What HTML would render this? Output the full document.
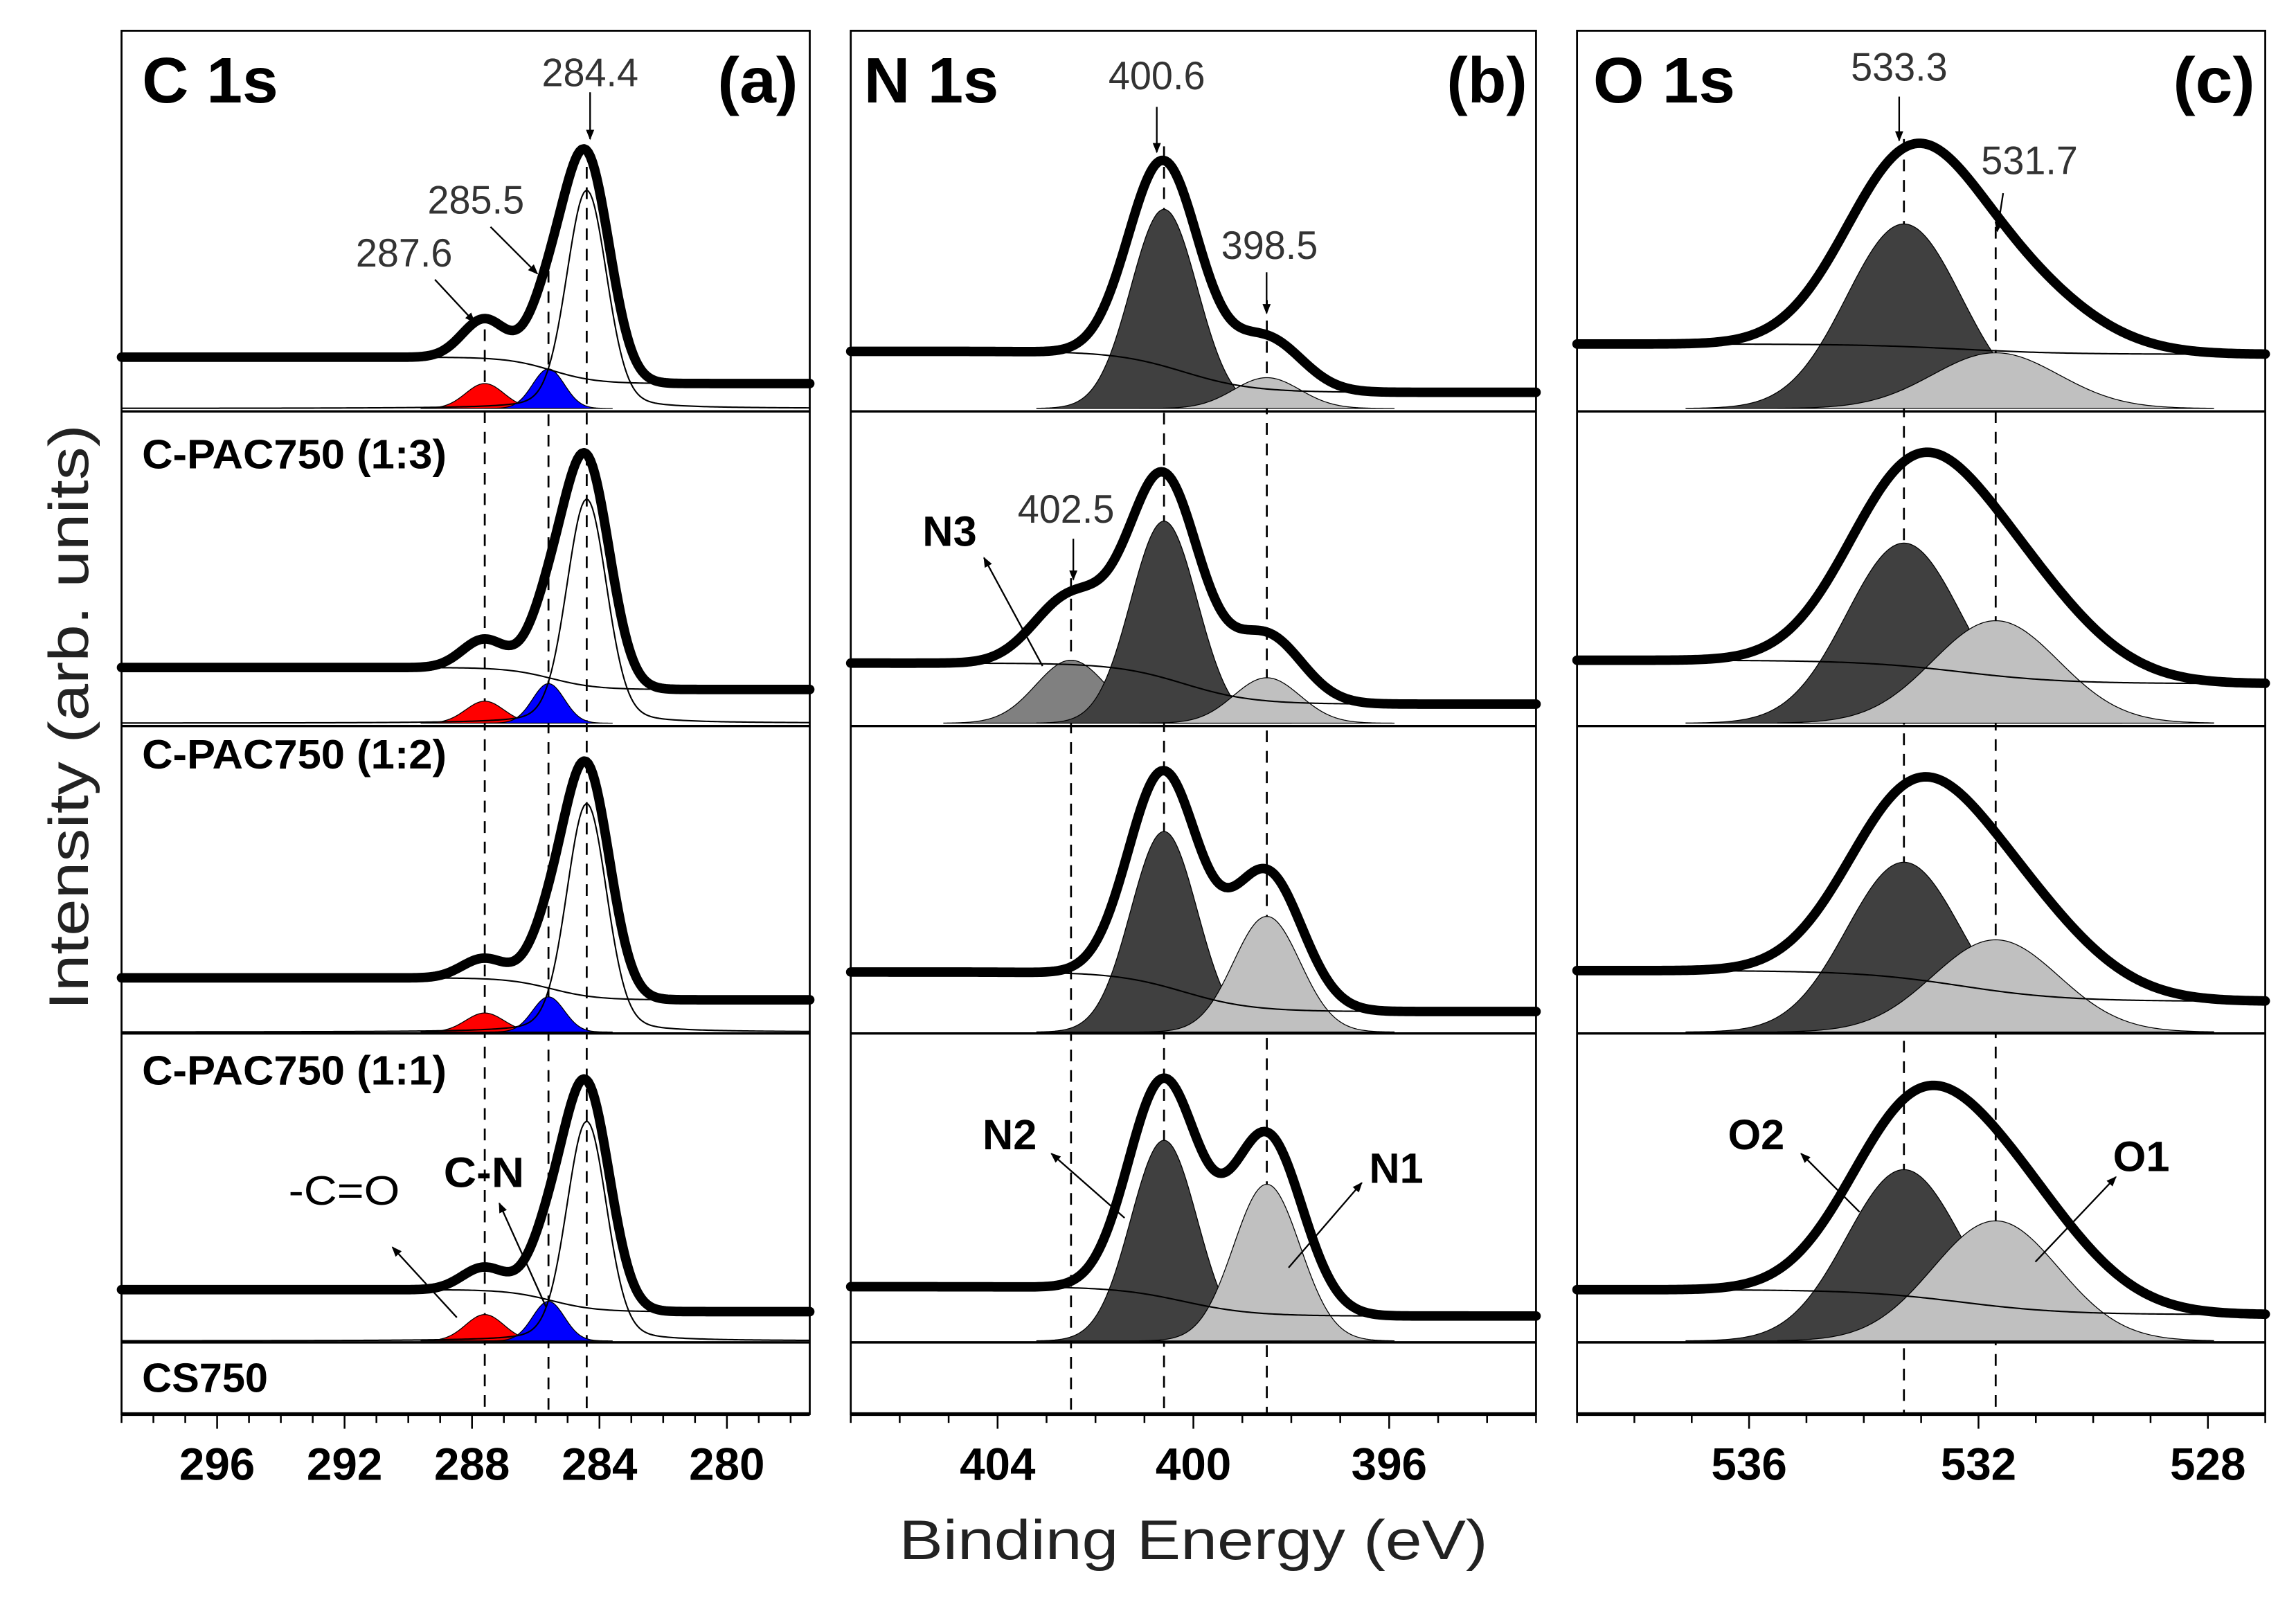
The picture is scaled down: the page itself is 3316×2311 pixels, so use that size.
<!DOCTYPE html>
<html><head><meta charset="utf-8"><title>XPS C1s N1s O1s</title>
<style>
html,body{margin:0;padding:0;background:#fff;}
svg{display:block;}
text{font-family:"Liberation Sans",Arial,sans-serif;}
</style></head>
<body>
<svg id="chart" xmlns="http://www.w3.org/2000/svg" width="3316" height="2311" viewBox="0 0 1568 1093" preserveAspectRatio="none">
<defs>
<marker id="ah" viewBox="0 0 10 10" refX="9" refY="5" markerWidth="7" markerHeight="7" orient="auto-start-reverse" markerUnits="userSpaceOnUse"><path d="M0,1 L10,5 L0,9 z" fill="#000"/></marker>
</defs>
<rect x="0" y="0" width="1568" height="1093" fill="#fff"/>
<g id="plots"></g>
<g id="annot"></g>
</svg>
<script>
// ---------- data ----------
const cPeakEnergies = [287.6, 285.6, 284.4];
const cEnvHeights = [[27,40,150],[20,40,152],[14,32,155],[16,36,150]];
const cFillHeights = [[17,27],[15,27],[13,24],[18,27]];
const cMainThin = [149,153,156,150];
const cBgLeft = [35,38,37,35];
const cBgRight = [17,23,22,20];

const nPeakEnergies = [402.5, 400.6, 398.5];
const nEnvHeights = [[0,140,35],[46,138,45],[0,146,93],[0,148,122]];
const nFillHeights = [[0,136,21],[43,138,31],[0,137,79],[0,137,107]];
const nBgLeft = [39,41,41,37];
const nBgRight = [11,13,14,17];

const oPeakEnergies = [533.3, 531.7];
const oEnvHeights = [[108,56],[100,80],[95,75],[90,90]];
const oFillHeights = [[126,38],[123,70],[116,63],[117,82]];
const oBgLeft = [44,43,42,35];
const oBgRight = [37,27,21,18];

const cTicks = [296,292,288,284,280];
const nTicks = [404,400,396];
const oTicks = [536,532,528];
const sampleLabels = ["C-PAC750 (1:3)","C-PAC750 (1:2)","C-PAC750 (1:1)","CS750"];

// ---------- geometry ----------
const NS = "http://www.w3.org/2000/svg";
const panels = [
  {x0:83, x1:553, e0:299, e1:277.4, tag:"a"},
  {x0:581, x1:1049, e0:407, e1:393, tag:"b"},
  {x0:1077, x1:1547, e0:539, e1:527, tag:"c"}
];
const TOP = 21, BOTTOM = 966;
const rowBase = [279, 494, 705, 916];
const dividers = [281, 496, 706, 917];

function xs(p, E){ return p.x0 + (p.e0 - E) / (p.e0 - p.e1) * (p.x1 - p.x0); }
function g(E, c, s){ return Math.exp(-((E-c)*(E-c))/(2*s*s)); }
function bg(E, L, R, c, w){ return L + (R - L) / (1 + Math.exp(-(c - E)/w)); }

const plots = document.getElementById('plots');
const annot = document.getElementById('annot');

function mk(tag, attrs, parent){
  const el = document.createElementNS(NS, tag);
  for (const k in attrs) el.setAttribute(k, attrs[k]);
  (parent||plots).appendChild(el);
  return el;
}
function curve(p, fn){
  const pts = [];
  const N = 320;
  for (let i=0;i<=N;i++){
    const E = p.e0 + (p.e1 - p.e0) * i / N;
    pts.push(xs(p,E).toFixed(2)+","+fn(E).toFixed(2));
  }
  return pts;
}
function fillPath(p, base, fn, lo, hi){
  const pts = [];
  const N = 200;
  for (let i=0;i<=N;i++){
    const E = hi + (lo - hi) * i / N;
    pts.push(xs(p,E).toFixed(2)+","+fn(E).toFixed(2));
  }
  return "M"+xs(p,hi).toFixed(2)+","+base+" L"+pts.join(" L")+" L"+xs(p,lo).toFixed(2)+","+base+" Z";
}

// ---------- frames, dividers, ticks ----------
panels.forEach((p, pi) => {
  const fr = mk('rect',{x:p.x0,y:TOP,width:p.x1-p.x0,height:BOTTOM-TOP,fill:"none",stroke:"#000","stroke-width":1.3});
  
  
  dividers.forEach((d, di) => {
    const l = mk('line',{x1:p.x0,x2:p.x1,y1:d,y2:d,stroke:"#000","stroke-width":1.6});
    
    
  });
  const ax = mk('line',{x1:p.x0,x2:p.x1,y1:BOTTOM,y2:BOTTOM,stroke:"#000","stroke-width":2.5});
  
  
  const major = [cTicks,nTicks,oTicks][pi];
  const eMax = Math.floor(p.e0), eMin = Math.ceil(p.e1);
  for (let E = eMax; E >= eMin; E--){
    const isMaj = major.indexOf(E) >= 0;
    const x = xs(p,E);
    const t = mk('line',{x1:x,x2:x,y1:BOTTOM,y2:BOTTOM+(isMaj?10:6),stroke:"#000","stroke-width":1.2});
    
    
  }
  major.forEach(v => {
    const t = mk('text',{x:xs(p,v),y:1011,"text-anchor":"middle","font-size":31,"font-weight":"bold",fill:"#000"});
    t.textContent = v;
    
    
  });
});

// ---------- dashed reference lines ----------
function dashed(p, E, y0){
  const x = xs(p,E);
  const l = mk('line',{x1:x,x2:x,y1:y0,y2:BOTTOM,stroke:"#000","stroke-width":1.3,"stroke-dasharray":"8 6"});
  
  
}
dashed(panels[0], cPeakEnergies[0], 225);
dashed(panels[0], cPeakEnergies[1], 185);
dashed(panels[0], cPeakEnergies[2], 100);
dashed(panels[1], nPeakEnergies[0], 395);
dashed(panels[1], nPeakEnergies[1], 100);
dashed(panels[1], nPeakEnergies[2], 205);
dashed(panels[2], oPeakEnergies[0], 95);
dashed(panels[2], oPeakEnergies[1], 155);

// ---------- C 1s ----------
(function(){
  const p = panels[0];
  const sEnv = [0.7, 0.62, 0.72];
  const sFill = [0.6, 0.5];
  const colors = ["#ff0000","#0000ff"];
  for (let r=0;r<4;r++){
    const b = rowBase[r];
    const bgf = E => bg(E, cBgLeft[r], cBgRight[r], 285.5, 0.7);
    cFillHeights[r].forEach((h, k) => {
      const c = cPeakEnergies[k];
      const f = mk('path',{d:fillPath(p,b,E=>b-h*g(E,c,sFill[k]),c-2.0,c+2.0),fill:colors[k],stroke:"#000","stroke-width":0.6});
      
      
    });
    const th = mk('polyline',{points:curve(p,E=>b-cMainThin[r]*(g(E,284.4,0.62)*0.85+0.15/(1+((E-284.4)/0.9)**2))).join(" "),fill:"none",stroke:"#000","stroke-width":1});
    
    
    const bl = mk('polyline',{points:curve(p,E=>b-bgf(E)).join(" "),fill:"none",stroke:"#000","stroke-width":1});
    
    
    const env = mk('polyline',{points:curve(p,E=>{let v=bgf(E);cEnvHeights[r].forEach((h,k)=>{v+=h*g(E,cPeakEnergies[k],sEnv[k]);});return b-v;}).join(" "),fill:"none",stroke:"#000","stroke-width":6.5,"stroke-linejoin":"round","stroke-linecap":"round"});
    
    
  }
})();

// ---------- N 1s ----------
(function(){
  const p = panels[1];
  const sEnv = [0.75, 0.72, 0.72];
  const sFill = [0.72, 0.68, 0.68];
  const colors = ["#808080","#404040","#c0c0c0"];
  for (let r=0;r<4;r++){
    const b = rowBase[r];
    const bgf = E => bg(E, nBgLeft[r], nBgRight[r], 400.2, 0.7);
    nFillHeights[r].forEach((h, k) => {
      if (h <= 0) return;
      const c = nPeakEnergies[k];
      const f = mk('path',{d:fillPath(p,b,E=>b-h*g(E,c,sFill[k]),c-2.6,c+2.6),fill:colors[k],stroke:"#000","stroke-width":0.6});
      
      
    });
    const bl = mk('polyline',{points:curve(p,E=>b-bgf(E)).join(" "),fill:"none",stroke:"#000","stroke-width":1});
    
    
    const env = mk('polyline',{points:curve(p,E=>{let v=bgf(E);nEnvHeights[r].forEach((h,k)=>{v+=h*g(E,nPeakEnergies[k],sEnv[k]);});return b-v;}).join(" "),fill:"none",stroke:"#000","stroke-width":6.5,"stroke-linejoin":"round","stroke-linecap":"round"});
    
    
  }
})();

// ---------- O 1s ----------
(function(){
  const p = panels[2];
  const sEnv = [1.1, 1.35];
  const sFill = [1.0, 1.1];
  const colors = ["#404040","#c0c0c0"];
  for (let r=0;r<4;r++){
    const b = rowBase[r];
    const bgf = E => bg(E, oBgLeft[r], oBgRight[r], 532.3, 0.9);
    oFillHeights[r].forEach((h, k) => {
      const c = oPeakEnergies[k];
      const f = mk('path',{d:fillPath(p,b,E=>b-h*g(E,c,sFill[k]),c-3.8,c+3.8),fill:colors[k],stroke:"#000","stroke-width":0.6});
      
      
    });
    const bl = mk('polyline',{points:curve(p,E=>b-bgf(E)).join(" "),fill:"none",stroke:"#000","stroke-width":1});
    
    
    const env = mk('polyline',{points:curve(p,E=>{let v=bgf(E);oEnvHeights[r].forEach((h,k)=>{v+=h*g(E,oPeakEnergies[k],sEnv[k]);});return b-v;}).join(" "),fill:"none",stroke:"#000","stroke-width":6.5,"stroke-linejoin":"round","stroke-linecap":"round"});
    
    
  }
})();

// ---------- annotations ----------
function txt(x,y,s,opts,name){
  const t = mk('text',Object.assign({x:x,y:y,fill:"#000"},opts),annot);
  t.textContent = s;
  
  
  return t;
}
function arrow(x1,y1,x2,y2,name){
  const l = mk('line',{x1:x1,y1:y1,x2:x2,y2:y2,stroke:"#000","stroke-width":1.1,"marker-end":"url(#ah)"},annot);
  
  
}
const big = {"font-size":44,"font-weight":"bold"};
txt(97,70,"C 1s",Object.assign({textLength:93,lengthAdjust:"spacingAndGlyphs"},big),"panel-title-c1s");
txt(590,70,"N 1s",Object.assign({textLength:92,lengthAdjust:"spacingAndGlyphs"},big),"panel-title-n1s");
txt(1088,70,"O 1s",Object.assign({textLength:97,lengthAdjust:"spacingAndGlyphs"},big),"panel-title-o1s");
txt(490,70,"(a)",Object.assign({textLength:55,lengthAdjust:"spacingAndGlyphs"},big),"panel-tag-a");
txt(988,70,"(b)",Object.assign({textLength:55,lengthAdjust:"spacingAndGlyphs"},big),"panel-tag-b");
txt(1484,70,"(c)",Object.assign({textLength:56,lengthAdjust:"spacingAndGlyphs"},big),"panel-tag-c");

const num = {"font-size":27,fill:"#333",textLength:66,lengthAdjust:"spacingAndGlyphs"};
txt(370,59,"284.4",num,"peak-label-284-4"); arrow(403,63,403,95,"peak-arrow");
txt(292,146,"285.5",num,"peak-label-285-5"); arrow(335,155,367,187,"peak-arrow");
txt(243,182,"287.6",num,"peak-label-287-6"); arrow(297,191,324,220,"peak-arrow");
txt(757,61,"400.6",num,"peak-label-400-6"); arrow(790,73,790,104,"peak-arrow");
txt(834,177,"398.5",num,"peak-label-398-5"); arrow(865,186,865,214,"peak-arrow");
txt(695,357,"402.5",num,"peak-label-402-5"); arrow(733,368,733,396,"peak-arrow");
txt(1264,55,"533.3",num,"peak-label-533-3"); arrow(1297,66,1297,96,"peak-arrow");
txt(1353,119,"531.7",num,"peak-label-531-7"); arrow(1368,132,1364,158,"peak-arrow");

const bl = {"font-size":29,"font-weight":"bold"};
txt(630,373,"N3",bl,"label-n3"); arrow(712,455,672,381,"label-arrow-n3");
txt(671,785,"N2",bl,"label-n2"); arrow(768,832,718,788,"label-arrow-n2");
txt(935,808,"N1",bl,"label-n1"); arrow(880,866,930,808,"label-arrow-n1");
txt(1180,785,"O2",bl,"label-o2"); arrow(1270,828,1230,788,"label-arrow-o2");
txt(1443,800,"O1",bl,"label-o1"); arrow(1390,862,1445,804,"label-arrow-o1");
txt(197,823,"-C=O",{"font-size":28,"font-family":"'Liberation Serif',serif",textLength:76,lengthAdjust:"spacingAndGlyphs"},"label-c-o");
txt(303,811,"C-N",{"font-size":29,"font-weight":"bold",textLength:55,lengthAdjust:"spacingAndGlyphs"},"label-c-n");
arrow(312,900,268,852,"label-arrow-c-o");
arrow(373,893,341,822,"label-arrow-c-n");

const sampY = [320,525,741,951];
sampleLabels.forEach((s,i)=>{
  txt(97,sampY[i],s,{"font-size":28,"font-weight":"bold",textLength:(i<3?208:86),lengthAdjust:"spacingAndGlyphs"},"sample-label");
});

txt(815,1065,"Binding Energy (eV)",{"font-size":38,"text-anchor":"middle",fill:"#222",textLength:402,lengthAdjust:"spacingAndGlyphs"},"x-axis-title");
const yt = txt(0,0,"Intensity (arb. units)",{"font-size":38,"text-anchor":"middle",fill:"#222",textLength:400,lengthAdjust:"spacingAndGlyphs",transform:"translate(60,490) rotate(-90)"},"y-axis-title");
</script>
</body></html>
